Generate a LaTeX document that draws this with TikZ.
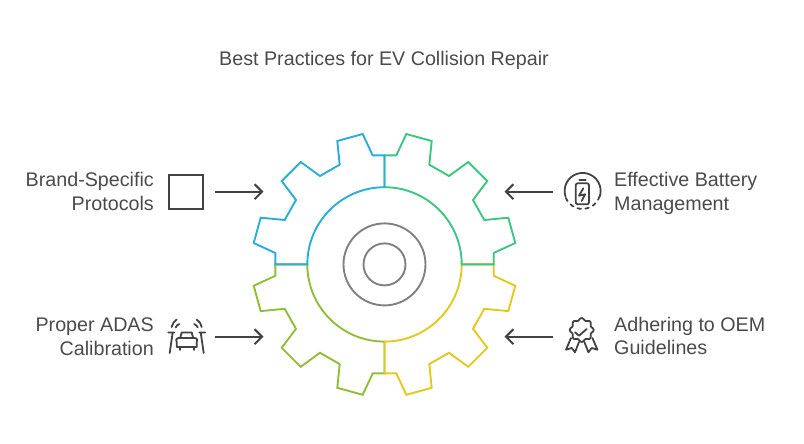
\documentclass[tikz,border=0pt]{standalone}
\usepackage{fontspec}
\setmainfont{Liberation Sans}
\usetikzlibrary{arrows.meta}
\definecolor{txt}{HTML}{4A4A4A}
\definecolor{ink}{HTML}{424242}
\definecolor{cblue}{HTML}{2AADD8}
\definecolor{cgreen}{HTML}{3CC583}
\definecolor{clime}{HTML}{93BC38}
\definecolor{cyellow}{HTML}{E3C91F}
\definecolor{cgrey}{HTML}{808080}
\tikzset{
  x=1pt,y=-1pt,
  quad/.style={line width=1.9pt,line join=miter,miter limit=4},
  hub/.style={circle,draw=cgrey,line width=1.9pt,inner sep=0pt},
  lab/.style={text=txt,font=\fontsize{19.7}{23.5}\selectfont,inner sep=0pt},
  labl/.style={lab,align=right,anchor=east},
  labr/.style={lab,align=left,anchor=west},
  arr/.style={draw=ink,line width=2pt,-{Straight Barb[length=7.5pt,width=15pt,line width=2pt]}},
  ico/.style={draw=ink,line width=1.8pt,line cap=round,line join=round,fill=none},
}
\newcommand{\gearquad}[3]{%
  \begin{scope}[shift={(384.5,264.4)},xscale=#1,yscale=#2]
  \draw[quad,#3] (0,-77.2) -- (0,-109) -- (-11.8,-109) -- (-21.8,-130.4) -- (-47.2,-123.4)
    -- (-44.8,-99.7) -- (-64.5,-88.4) -- (-83.8,-102.4) -- (-102.8,-83.4) -- (-88.5,-64.4)
    -- (-99.8,-44.4) -- (-123.8,-46.7) -- (-130.8,-21.4) -- (-109.2,-11.4) -- (-109.2,0)
    -- (-77.2,0) arc[start angle=180,end angle=270,radius=77.2] -- cycle;
  \end{scope}}
\begin{document}
\begin{tikzpicture}
\useasboundingbox (0,0) rectangle (804,444);
\node[text=txt,font=\fontsize{19.7}{23}\selectfont,inner sep=0pt] (title) at (384,60) {Best Practices for EV Collision Repair};
\gearquad{1}{-1}{clime}
\gearquad{-1}{-1}{cyellow}
\gearquad{-1}{1}{cgreen}
\gearquad{1}{1}{cblue}
\node[hub,minimum size=82pt] (hubo) at (384.5,264.4) {};
\node[hub,minimum size=42pt] (hubi) at (384.5,264.4) {};
% labels
\node[labl] (l1) at (154,191.5) {Brand-Specific\\Protocols};
\node[labl] (l2) at (154,336.5) {Proper ADAS\\Calibration};
\node[labr] (r1) at (614,193.2) {Effective Battery\\Management};
\node[labr] (r2) at (614,335.8) {Adhering to OEM\\Guidelines};
% icons
\node[draw=ink,line width=2pt,minimum size=34pt,inner sep=0pt] (sq) at (186,191.8) {};
% arrows
\coordinate (a1s) at (215,191.7); \coordinate (a1e) at (263.5,191.7);
\coordinate (a2s) at (215,336.7); \coordinate (a2e) at (263.5,336.7);
\coordinate (a3s) at (553,191.7); \coordinate (a3e) at (504.5,191.7);
\coordinate (a4s) at (553,336.7); \coordinate (a4e) at (504.5,336.7);
\draw[arr] (a1s) -- (a1e);
\draw[arr] (a2s) -- (a2e);
\draw[arr] (a3s) -- (a3e);
\draw[arr] (a4s) -- (a4e);
% battery icon
\begin{scope}[shift={(582.5,191)}]
\draw[ico] (-17,5.5) arc[start angle=162,end angle=378,radius=18];
\draw[ico,dash pattern=on 3.6pt off 4.4pt] (17,5.5) arc[start angle=18,end angle=162,radius=18];
\draw[ico,rounded corners=2pt] (-6.8,-7.7) rectangle (6.5,13.3);
\draw[ico] (-3.2,-11) -- (3.2,-11);
\draw[ico] (0.8,-2.7) -- (-3.5,4.7) -- (2.5,3.3) -- (-0.8,10);
\end{scope}
% rosette icon
\begin{scope}[shift={(581.7,333)}]
\draw[ico] plot[smooth cycle,samples=49,domain=0:352.5] ({(10.9+1.1*cos(8*\x))*cos(\x)},{(10.9+1.1*cos(8*\x))*sin(\x)-3});
\draw[ico] (-6.7,-0.7) -- (-2.7,2.7) -- (5,-4);
\draw[ico] (-10.7,5) -- (-15.7,16.7) -- (-10,15) -- (-6.7,19.3) -- (-2.7,9);
\draw[ico] (10.7,5) -- (15.7,16.7) -- (10,15) -- (6.7,19.3) -- (2.7,9);
\end{scope}
% car icon
\begin{scope}[shift={(186.7,336.5)}]
\draw[ico] (-6.5,1.5) -- (-5,-4) -- (5,-4) -- (6.5,1.5);
\draw[ico] (-8,1.5) .. controls (-11,1.5) and (-11,5) .. (-10,5.5) -- (-10,10.5) -- (10,10.5) -- (10,5.5) .. controls (11,5) and (11,1.5) .. (8,1.5) -- cycle;
\draw[ico] (-7,10.5) -- (-7,13.5) (7,10.5) -- (7,13.5);
\draw[ico] (-18.5,-4) -- (-12.5,-4) (-14,-4) -- (-17,16.5);
\draw[ico] (18.5,-4) -- (12.5,-4) (14,-4) -- (17,16.5);
\draw[ico] (-15,-9.5) .. controls (-14,-13) and (-13,-15) .. (-10,-17);
\draw[ico] (-11,-9) .. controls (-10.5,-10.5) and (-9.5,-11.5) .. (-7.5,-12.5);
\draw[ico] (15,-9.5) .. controls (14,-13) and (13,-15) .. (10,-17);
\draw[ico] (11,-9) .. controls (10.5,-10.5) and (9.5,-11.5) .. (7.5,-12.5);
\end{scope}
\end{tikzpicture}
\end{document}
